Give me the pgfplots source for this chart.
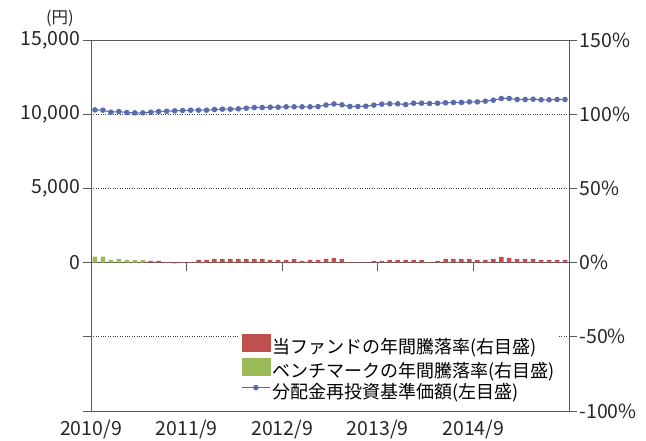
\documentclass[border=0pt]{standalone}
\usepackage{pgfplots}
\pgfplotsset{compat=1.18}
\usepackage{fontspec}
\setmainfont{Noto Sans CJK JP}
\definecolor{axiscol}{HTML}{595959}
\definecolor{fundred}{HTML}{C0504D}
\definecolor{benchgreen}{HTML}{9BBB59}
\definecolor{navblue}{HTML}{5A6BAE}
\begin{document}
\begin{tikzpicture}
\useasboundingbox (-91pt,-30pt) rectangle (555pt,411pt);
\pgfplotsset{
  common/.style={
    width=478pt, height=371pt, scale only axis,
    xmin=0, xmax=60,
    tick align=outside, major tick length=8pt,
    tick style={draw=axiscol, line width=0.8pt},
    axis line style={draw=axiscol, line width=0.8pt},
    ticklabel style={font=\fontsize{19.5}{21}\selectfont, text=black!85},
    scaled y ticks=false,
  }
}
% left axis: base price line
\begin{axis}[common, name=main,
  ymin=-10000, ymax=15000,
  ytick={-10000,-5000,0,5000,10000,15000},
  yticklabels={,,0,{5,000},{10,000},{15,000}},
  ytick pos=left,
  xtick={0,12,24,36,48},
  xticklabels={2010/9,2011/9,2012/9,2013/9,2014/9},
  x tick style={draw=none},
  xticklabel style={yshift=3pt},
  yticklabel style={xshift=1pt},
  ymajorgrids, grid style={dotted, black!75, line width=0.85pt},
  legend style={draw=none, fill=white, at={(0.31,0.017)}, anchor=south west,
    font=\fontsize{18}{20}\selectfont, row sep=1pt, inner sep=2pt},
  legend cell align=left,
]
\draw[axiscol, line width=0.8pt] (axis cs:0,0) -- (axis cs:60,0);
\draw[axiscol, line width=0.8pt] (axis cs:12,0) -- ++(0pt,-8pt);
\draw[axiscol, line width=0.8pt] (axis cs:24,0) -- ++(0pt,-8pt);
\draw[axiscol, line width=0.8pt] (axis cs:36,0) -- ++(0pt,-8pt);
\draw[axiscol, line width=0.8pt] (axis cs:48,0) -- ++(0pt,-8pt);
\addlegendimage{legend image code/.code={\fill[fundred] (0pt,-5pt) rectangle (28pt,12.5pt);}}
\addlegendentry{当ファンドの年間騰落率(右目盛)}
\addlegendimage{legend image code/.code={\fill[benchgreen] (0pt,-5pt) rectangle (28pt,12.5pt);}}
\addlegendentry{ベンチマークの年間騰落率(右目盛)}
\addplot[navblue, line width=1.1pt, mark=*, mark size=2.2pt,
  mark options={fill=navblue, draw=navblue},
  legend image code/.code={\draw[navblue, line width=1.1pt] (0pt,4.5pt) -- (28pt,4.5pt); \fill[navblue] (14pt,4.5pt) circle (2.2pt);}]
  table {
x y
0.5 10290
1.5 10270
2.5 10135
3.5 10180
4.5 10110
5.5 10090
6.5 10090
7.5 10135
8.5 10180
9.5 10200
10.5 10225
11.5 10250
12.5 10270
13.5 10270
14.5 10270
15.5 10315
16.5 10340
17.5 10340
18.5 10360
19.5 10405
20.5 10450
21.5 10450
22.5 10470
23.5 10470
24.5 10495
25.5 10495
26.5 10495
27.5 10495
28.5 10515
29.5 10620
30.5 10690
31.5 10630
32.5 10520
33.5 10520
34.5 10540
35.5 10610
36.5 10675
37.5 10700
38.5 10700
39.5 10650
40.5 10740
41.5 10740
42.5 10720
43.5 10740
44.5 10765
45.5 10790
46.5 10790
47.5 10830
48.5 10830
49.5 10880
50.5 10945
51.5 11060
52.5 11060
53.5 10990
54.5 10990
55.5 11010
56.5 10970
57.5 10970
58.5 10990
59.5 10990
};
\addlegendentry{分配金再投資基準価額(左目盛)}
\end{axis}
\node[font=\fontsize{16.5}{17}\selectfont, text=black!85] at ([xshift=-31pt,yshift=22pt]main.north west) {(円)};
% right axis: annual returns
\begin{axis}[common,
  ymin=-100, ymax=150,
  ytick={-100,-50,0,50,100,150},
  yticklabels={-100\%,-50\%,0\%,50\%,100\%,150\%},
  yticklabel style={xshift=-1pt},
  axis x line=none, axis y line*=right,
]
\addplot[ybar, bar width=4.5pt, bar shift=0pt, fill=benchgreen, draw=none] table {
x y
0.5 4.0
1.5 4.0
2.5 1.8
3.5 2.5
4.5 1.8
5.5 1.8
6.5 1.8
};
\addplot[ybar, bar width=4.5pt, bar shift=0pt, fill=fundred, draw=none] table {
x y
7.5 1.1
8.5 1.1
9.5 0.4
10.5 -0.5
11.5 0.4
12.5 0.4
13.5 1.8
14.5 1.8
15.5 2.5
16.5 2.5
17.5 2.5
18.5 2.5
19.5 2.5
20.5 2.5
21.5 2.5
22.5 1.8
23.5 1.8
24.5 1.8
25.5 2.5
26.5 1.1
27.5 1.8
28.5 1.8
29.5 2.5
30.5 3.1
31.5 2.5
32.5 0.3
33.5 0.3
34.5 0.3
35.5 1.1
36.5 1.1
37.5 1.8
38.5 1.8
39.5 1.8
40.5 1.8
41.5 1.8
42.5 0.4
43.5 1.1
44.5 2.5
45.5 2.5
46.5 2.5
47.5 2.5
48.5 1.8
49.5 1.8
50.5 2.5
51.5 3.8
52.5 3.1
53.5 2.5
54.5 2.5
55.5 2.5
56.5 1.8
57.5 1.8
58.5 1.8
59.5 1.8
};
\end{axis}
\end{tikzpicture}
\end{document}
